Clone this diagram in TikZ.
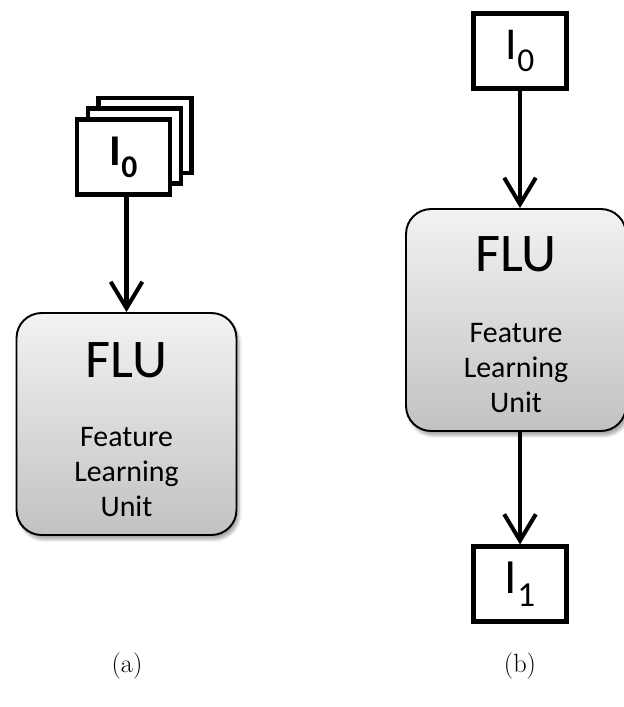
\documentclass[tikz,border=0pt]{standalone}
\usepackage{fontspec}
\usetikzlibrary{arrows.meta,shadows.blur,positioning}
\newfontfamily\calibri{Carlito}
% image name with a dropped index
\newcommand{\imgname}[2]{I\raisebox{-0.27em}{\fontsize{#2}{#2}\selectfont #1}}

\begin{document}
\begin{tikzpicture}[x=0.02cm, y=-0.02cm,
	 imgbox/.style={draw, line width=2.3pt, fill=white, minimum width=1.86cm,
	   minimum height=1.5cm, inner sep=0pt, font=\calibri\fontsize{26}{30}\selectfont},
	 flubox/.style={draw, line width=1.1pt, rounded corners=0.5cm,
	   minimum width=4.4cm, minimum height=4.44cm, inner sep=0pt,
	   top color=gray!10, bottom color=gray!48,
	   blur shadow={shadow xshift=1.5pt, shadow yshift=-2.5pt, shadow opacity=35, shadow blur steps=6}},
	 flutitle/.style={anchor=base, inner sep=0pt, font=\calibri\fontsize{31}{36}\selectfont},
	 fludesc/.style={anchor=base, inner sep=0pt, align=center, font=\calibri\fontsize{17}{19.8}\selectfont},
	 flow/.style={line width=2.3pt, -{Straight Barb[length=15pt, width=18pt]}},
	 subcap/.style={font=\fontsize{15}{18}\selectfont}]
	\useasboundingbox (0,0) rectangle (624,707);

	% (a): a stack of input images into one unit
	\node[imgbox] (a back) at (145,135.5) {};
	\node[imgbox] (a mid) at (134.5,146) {};
	\node[imgbox, font=\calibri\bfseries\fontsize{25}{30}\selectfont] (a in) at (123.5,157) {\imgname{0}{18}};
	\node[flubox] (a flu) at (126.5,424) {};
	\node[flutitle] (a flu title) at ([yshift=-1.3cm]a flu.north) {FLU};
	% base sits on the last line here
	\node[fludesc] (a flu desc) at ([yshift=-4.08cm]a flu.north) {Feature\\Learning\\Unit};
	\draw[flow] (a flu.north |- a in.south) -- (a flu.north);
	\node[subcap] (a cap) at (127,666) {(a)};

	% (b): one image in, one image out
	\node[imgbox] (b in) at (520,51) {\imgname{0}{19}};
	\node[flubox] (b flu) at (516,320) {};
	\node[flutitle] (b flu title) at ([yshift=-1.26cm]b flu.north) {FLU};
	\node[fludesc] (b flu desc) at ([yshift=-4.08cm]b flu.north) {Feature\\Learning\\Unit};
	\node[imgbox, font=\calibri\fontsize{28}{32}\selectfont] (b out) at (520,584) {\imgname{1}{20}};
	\draw[flow] (b in.south) -- (b in.south |- b flu.north);
	\draw[flow] (b out.north |- b flu.south) -- (b out.north);
	\node[subcap] (b cap) at (520,666) {(b)};
\end{tikzpicture}
\end{document}
